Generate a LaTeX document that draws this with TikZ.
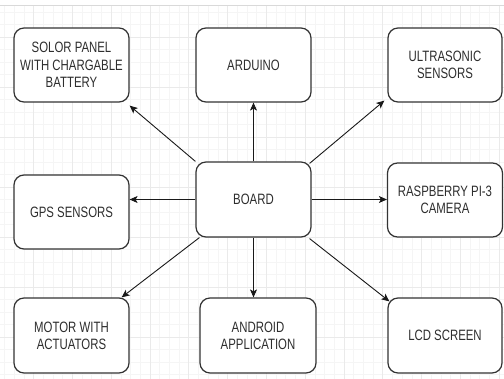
\documentclass[tikz,border=0pt]{standalone}
\usepackage{fontspec}
\setmainfont{Liberation Sans}[FakeStretch=0.76]
\usetikzlibrary{arrows.meta,calc}
\definecolor{boxline}{HTML}{333333}
\definecolor{minorgrid}{HTML}{F5F5F5}
\definecolor{majorgrid}{HTML}{EAEAEA}
\tikzset{
  blk/.style={draw=boxline, line width=1.2pt, rounded corners=10pt, fill=white,
    minimum width=115pt, minimum height=74pt, align=center, inner sep=2pt,
    font=\fontsize{15pt}{17.3pt}\selectfont, text=black!82},
  conn/.style={line width=0.9pt, draw=black!90, -{Stealth[length=8pt,width=7pt,inset=2pt]}},
}
\begin{document}
\begin{tikzpicture}[x=1pt,y=-1pt]
\useasboundingbox (0,0) rectangle (504,379);
\fill[white] (0,0) rectangle (504,379);
% grid
\foreach \i in {-3,...,49} {
  \draw[minorgrid, line width=0.5pt] ({33.5+9.7*\i},6) -- ({33.5+9.7*\i},379);
}
\foreach \j in {-2,...,27} {
  \draw[minorgrid, line width=0.5pt] (0,{37+12.5*\j}) -- (504,{37+12.5*\j});
}
\foreach \i in {0,...,12} {
  \draw[majorgrid, line width=0.6pt] ({33.5+38.8*\i},6) -- ({33.5+38.8*\i},379);
}
\foreach \j in {0,...,6} {
  \draw[majorgrid, line width=0.6pt] (0,{37+50*\j}) -- (504,{37+50*\j});
}
\draw[gray!30, line width=0.8pt] (0,5) -- (504,5);
% nodes
\node[blk] (solar) at (71.5,65) {SOLOR PANEL\\WITH CHARGABLE\\BATTERY};
\node[blk] (arduino) at (253.5,65) {ARDUINO};
\node[blk, minimum width=114pt] (ultra) at (445,65) {ULTRASONIC\\SENSORS};
\node[blk] (gps) at (71.5,212) {GPS SENSORS};
\node[blk, minimum height=75pt] (board) at (253.5,199.5) {BOARD};
\node[blk, minimum width=115pt, minimum height=74pt] (rasp) at (445,200) {RASPBERRY PI-3\\CAMERA};
\node[blk, minimum height=75pt] (motor) at (71.5,335.5) {MOTOR WITH\\ACTUATORS};
\node[blk, minimum width=116pt, minimum height=75pt] (android) at (258,335.5) {ANDROID\\APPLICATION};
\node[blk, minimum width=114pt, minimum height=75pt] (lcd) at (445,335.5) {LCD SCREEN};
% connectors
\draw[conn] (board.north west) -- ($(solar.south east)+(0,3)$);
\draw[conn] (board.north) -- (arduino.south);
\draw[conn] ($(board.north east)+(-2,2)$) -- ($(ultra.south west)+(-3,-2)$);
\draw[conn] (board.west) -- (board.west -| gps.east);
\draw[conn] (board.east) -- (board.east -| rasp.west);
\draw[conn] ($(board.south west)+(4,0)$) -- ($(motor.north east)+(-8,0)$);
\draw[conn] (board.south) -- (board.south |- android.north);
\draw[conn] ($(board.south east)+(-2,1)$) -- ($(lcd.north west)+(2,4)$);
\end{tikzpicture}
\end{document}
